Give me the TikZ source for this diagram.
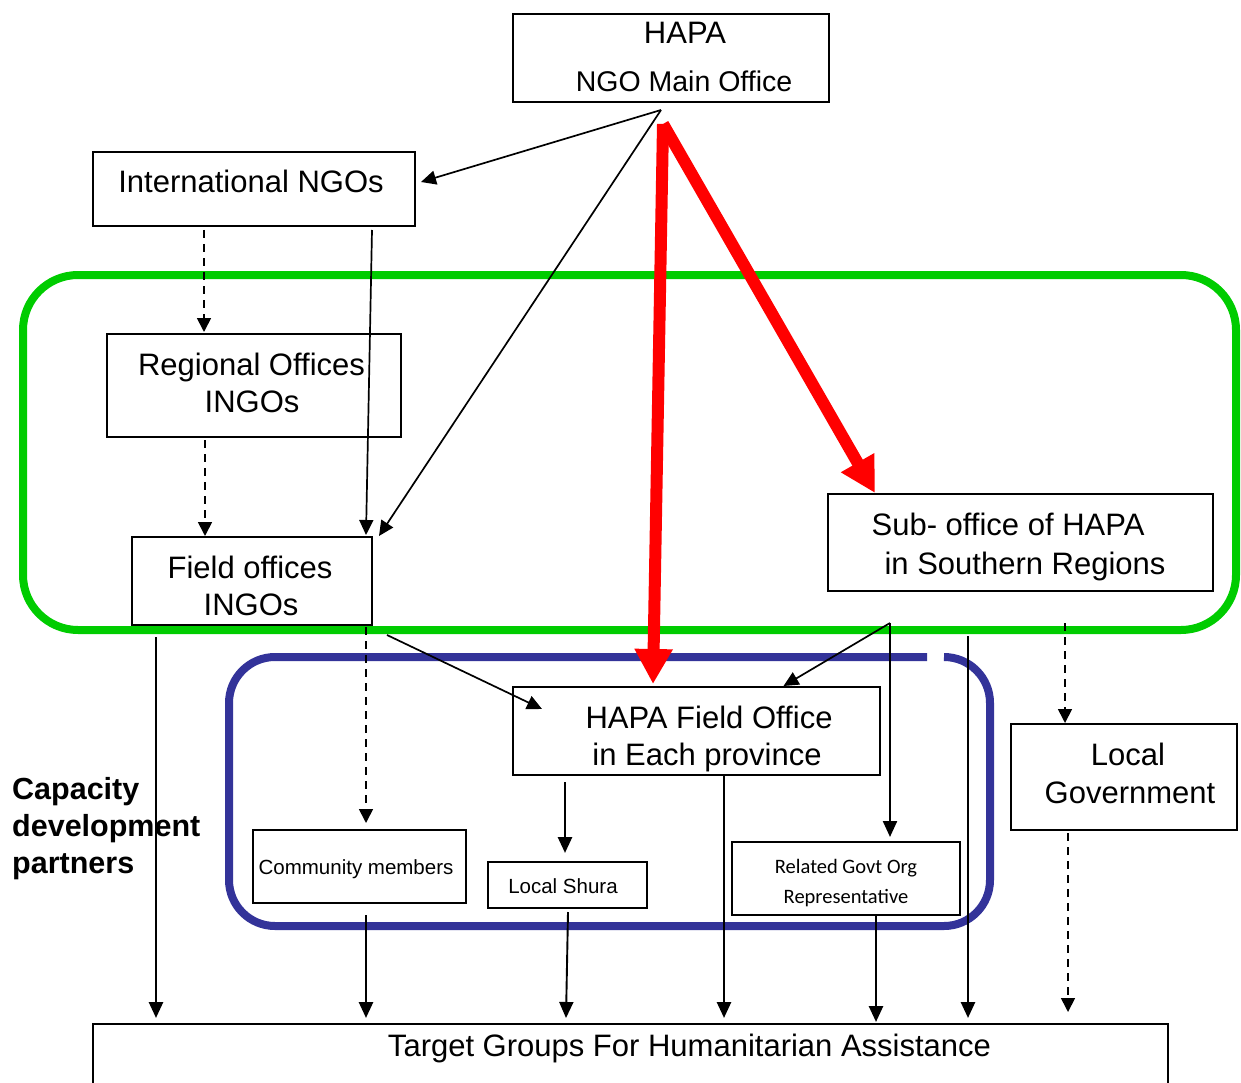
\documentclass[tikz,border=0pt]{standalone}
\usepackage{fontspec}
\setmainfont{Liberation Sans}
\newfontfamily\calib{Carlito}
\usetikzlibrary{arrows.meta,calc}
\definecolor{grn}{HTML}{00CC00}
\definecolor{blu}{HTML}{333399}
\definecolor{rd}{HTML}{FF0000}
\begin{document}
\begin{tikzpicture}[x=1pt,y=-1pt,
  box/.style={draw,line width=2pt,inner sep=0pt,outer sep=0pt},
  lbl/.style={anchor=base,inner sep=0pt,font=\fontsize{31}{37}\selectfont},
  slbl/.style={anchor=base,inner sep=0pt,font=\fontsize{20.5}{24}\selectfont},
  clbl/.style={anchor=base,inner sep=0pt,font=\calib\fontsize{20.5}{24}\selectfont},
  blbl/.style={anchor=base west,inner sep=0pt,font=\bfseries\fontsize{30.5}{37}\selectfont},
  arr/.style={line width=1.7pt,-{Triangle[length=15pt,width=14pt]}},
  varr/.style={line width=2.7pt,-{Triangle[length=16pt,width=14pt]}},
  darr/.style={line width=1.7pt,dash pattern=on 8pt off 6pt,-{Triangle[length=14pt,width=14pt]}},
  redarr/.style={draw=rd,line width=12pt,-{Triangle[length=35pt,width=36pt]}},
  frame/.style={line width=8pt}
]
\useasboundingbox (0,0) rectangle (1241,1083);
\clip (0,0) rectangle (1241,1083);

% frames
\draw[frame,grn,rounded corners=55pt] (23,275) rectangle (1236,630);
\draw[frame,blu,rounded corners=46pt] (944,657) -- (990,657) -- (990,926) -- (229,926) -- (229,657) -- (927,657);

% boxes
\node[box,minimum width=316pt,minimum height=88pt] (hapa) at (671,58) {};
\node[lbl] (hapaT1) at (685,44) {HAPA};
\node[lbl,font=\fontsize{28.5}{34}\selectfont] (hapaT2) at (684,92) {NGO Main Office};

\node[box,minimum width=322pt,minimum height=74pt] (intl) at (254,189) {};
\node[lbl] (intlT) at (251,193) {International NGOs};

\node[box,minimum width=294pt,minimum height=103pt] (reg) at (254,385.5) {};
\node[lbl] (regT1) at (251.5,375) {Regional Offices};
\node[lbl] (regT2) at (252,412) {INGOs};

\node[box,minimum width=240pt,minimum height=88pt] (field) at (252,581) {};
\node[lbl] (fieldT1) at (250,578) {Field offices};
\node[lbl] (fieldT2) at (251,615) {INGOs};

\node[box,minimum width=385pt,minimum height=97pt] (sub) at (1020.5,542.5) {};
\node[lbl] (subT1) at (1008,535) {Sub- office of HAPA};
\node[lbl] (subT2) at (1025,574) {in Southern Regions};

\node[box,minimum width=367pt,minimum height=88pt] (hfo) at (696.5,731) {};
\node[lbl] (hfoT1) at (709,728) {HAPA Field Office};
\node[lbl] (hfoT2) at (707,765) {in Each province};

\node[box,minimum width=226pt,minimum height=106pt] (lgov) at (1124,777) {};
\node[lbl] (lgovT1) at (1128,765) {Local};
\node[lbl] (lgovT2) at (1130,803) {Government};

\node[box,minimum width=213pt,minimum height=73pt] (comm) at (359.5,866.5) {};
\node[slbl] (commT) at (356,874) {Community members};

\node[box,minimum width=159pt,minimum height=46pt] (shura) at (567.5,885) {};
\node[slbl] (shuraT) at (563,893) {Local Shura};

\node[box,minimum width=228pt,minimum height=73pt] (rgov) at (846,878.5) {};
\node[clbl] (rgovT1) at (846,873) {Related Govt Org};
\node[clbl] (rgovT2) at (846,903) {Representative};

\node[box,minimum width=1075pt,minimum height=76pt] (target) at (630.5,1062) {};
\node[lbl] (targetT) at (689.5,1056) {Target Groups For Humanitarian Assistance};

\node[blbl] (cap1) at (12,799) {Capacity};
\node[blbl] (cap2) at (12,836) {development};
\node[blbl] (cap3) at (12,873) {partners};

% connectors
\coordinate (hapaO) at ($(hapa.south)+(-10,8)$);
\draw[arr] (hapaO) -- ($(intl.east)+(6,-7)$);
\draw[arr] (hapaO) -- ($(field.north east)+(7,-1)$);
\draw[arr] ($(intl.south east)+(-43,4)$) -- ($(field.north east)+(-6,-2)$);
\draw[darr,shorten <=4pt,shorten >=2pt] (intl.south -| 204,0) -- (reg.north -| 204,0);
\draw[darr,shorten <=3pt,shorten >=1pt] (reg.south -| 205,0) -- (field.north -| 205,0);
\draw[arr] ($(field.south east)+(15,10)$) -- ($(hfo.north west)+(29,22)$);
\draw[darr,shorten <=2pt,shorten >=7pt] (field.south -| 366,0) -- (comm.north -| 366,0);
\draw[varr,shorten <=12pt,shorten >=6pt] (field.south -| 156,0) -- (target.north -| 156,0);
\draw[varr,shorten <=12pt,shorten >=6pt] (comm.south -| 366,0) -- (target.north -| 366,0);
\draw[varr,line width=1.9pt] ($(shura.south)+(0.5,4)$) -- ($(target.north -| 566,0)+(0,-6)$);
\draw[varr,shorten <=7pt,shorten >=9pt] (hfo.south -| 565,0) -- (shura.north -| 565,0);
\draw[varr,shorten >=6pt] (hfo.south -| 724,0) -- (target.north -| 724,0);
\coordinate (subO) at ($(sub.south west)+(62,32)$);
\draw[varr,line width=2.3pt] (subO) -- ($(rgov.north -| 890,0)+(0,-5)$);
\draw[arr] (subO) -- ($(hfo.north)+(87,-1)$);
\draw[varr,shorten <=45pt,shorten >=6pt] (sub.south -| 968,0) -- (target.north -| 968,0);
\draw[varr,shorten >=2pt] (rgov.south -| 876,0) -- (target.north -| 876,0);
\draw[darr,shorten <=32pt,shorten >=1pt] (sub.south -| 1065,0) -- (lgov.north -| 1065,0);
\draw[darr,shorten <=3pt,shorten >=12pt] (lgov.south -| 1068,0) -- (target.north -| 1068,0);

% red arrows
\coordinate (redO) at ($(hapa.south)+(-8,22)$);
\draw[redarr] (redO) -- ($(hfo.north)+(-43.5,-3)$);
\draw[redarr] (redO) -- ($(sub.north west)+(47,-1)$);
\end{tikzpicture}
\end{document}
